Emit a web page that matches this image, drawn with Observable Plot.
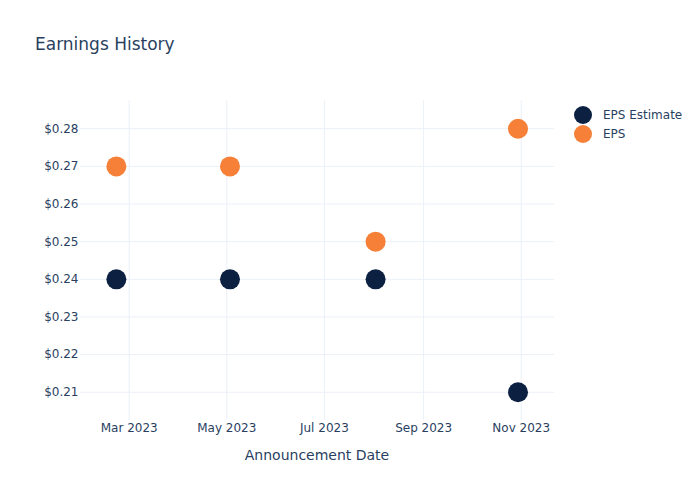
<!DOCTYPE html>
<html>
<head>
<meta charset="utf-8">
<script src="https://cdn.jsdelivr.net/npm/d3@7"></script>
<script src="https://cdn.jsdelivr.net/npm/@observablehq/plot@0.6"></script>
<style>
  html, body { margin: 0; padding: 0; background: #fff; }
  #wrap { position: relative; width: 700px; height: 500px; font-family: "DejaVu Sans", sans-serif; color: #2a3f5f; }
  #title { position: absolute; left: 35px; top: 34px; font-size: 17px; color: #2a3f5f; white-space: nowrap; }
  #xlabel { position: absolute; left: 80px; width: 474px; top: 447px; text-align: center; font-size: 14px; color: #2a3f5f; white-space: nowrap; }
  #legend { position: absolute; left: 574px; top: 105px; font-size: 12px; color: #2a3f5f; }
  .item { display: flex; align-items: center; height: 19px; }
  .sw { width: 18px; height: 18px; border-radius: 50%; margin-right: 11px; }
</style>
</head>
<body>
<div id="wrap">
  <div id="chart"></div>
  <div id="title"></div>
  <div id="xlabel"></div>
  <div id="legend"></div>
</div>
<script>
const titleText = "Earnings History";
const xLabel = "Announcement Date";
const dates = ["2023-02-21", "2023-05-03", "2023-08-02", "2023-10-30"];
const epsEstimate = [0.24, 0.24, 0.24, 0.21];
const eps = [0.27, 0.27, 0.25, 0.28];
const seriesNames = ["EPS Estimate", "EPS"];
const seriesColors = ["#0c2142", "#f68038"];
const xTickDates = ["2023-03-01", "2023-05-01", "2023-07-01", "2023-09-01", "2023-11-01"];
const yTicks = [0.21, 0.22, 0.23, 0.24, 0.25, 0.26, 0.27, 0.28];

const rows = [];
dates.forEach((d, i) => {
  rows.push({date: new Date(d), value: epsEstimate[i], series: seriesNames[0]});
});
dates.forEach((d, i) => {
  rows.push({date: new Date(d), value: eps[i], series: seriesNames[1]});
});
const xt = xTickDates.map(d => new Date(d));
const gridColor = "#ebf0f8";

const chart = Plot.plot({
  width: 700,
  height: 500,
  marginLeft: 80,
  marginRight: 146,
  marginTop: 100,
  marginBottom: 80,
  style: {fontFamily: "DejaVu Sans, sans-serif", fontSize: "12px", color: "#2a3f5f", background: "#fff"},
  x: {type: "utc", domain: [new Date(Date.UTC(2023, 0, 29, 14)), new Date(Date.UTC(2023, 10, 21, 19))]},
  y: {domain: [0.2025, 0.2875]},
  color: {domain: seriesNames, range: seriesColors},
  marks: [
    Plot.gridX(xt, {stroke: gridColor, strokeOpacity: 1}),
    Plot.gridY(yTicks, {stroke: gridColor, strokeOpacity: 1}),
    Plot.axisX(xt, {tickSize: 0, tickPadding: 3, tickFormat: d3.utcFormat("%b %Y"), label: null}),
    Plot.axisY(yTicks, {tickSize: 0, tickPadding: 2, tickFormat: d => "$" + d.toFixed(2), label: null}),
    Plot.dot(rows, {x: "date", y: "value", fill: "series", r: 10, stroke: null})
  ]
});
document.getElementById("chart").appendChild(chart);

document.getElementById("title").textContent = titleText;
document.getElementById("xlabel").textContent = xLabel;
const leg = document.getElementById("legend");
seriesNames.forEach((n, i) => {
  const it = document.createElement("div");
  it.className = "item";
  const sw = document.createElement("span");
  sw.className = "sw";
  sw.style.background = seriesColors[i];
  const tx = document.createElement("span");
  tx.textContent = n;
  it.appendChild(sw); it.appendChild(tx);
  leg.appendChild(it);
});
</script>
</body>
</html>
